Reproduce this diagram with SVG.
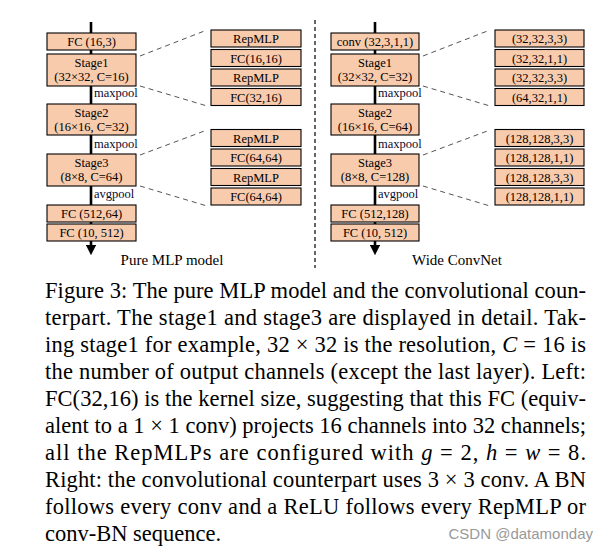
<svg xmlns="http://www.w3.org/2000/svg" width="609" height="552" viewBox="0 0 609 552">
<style>
.bx{fill:#F8CBAD;stroke:#000;stroke-width:1.1}
.t{font-family:"Liberation Serif","Times New Roman",serif;font-size:12.5px;fill:#000;text-anchor:middle}
.lb{font-family:"Liberation Serif","Times New Roman",serif;font-size:12.5px;fill:#0a0a30}
.ttl{font-family:"Liberation Serif","Times New Roman",serif;font-size:15px;fill:#000;text-anchor:middle}
.cap{font-family:"Liberation Serif","Times New Roman",serif;font-size:22.5px;fill:#000}
.dl{stroke:#555;stroke-width:1;stroke-dasharray:5 4;fill:none}
.spine{stroke:#000;stroke-width:2.6;fill:none}
.i{font-style:italic}
</style>
<defs>
<marker id="ah" markerWidth="4" markerHeight="4" refX="2" refY="2" orient="auto" markerUnits="strokeWidth">
<path d="M0,0 L4,2 L0,4 Z" fill="#000"/>
</marker>
</defs>
<g id="connectors">
<line class="spine" x1="91" y1="22" x2="91" y2="250" marker-end="url(#ah)"/>
<line class="spine" x1="375" y1="22" x2="375" y2="250" marker-end="url(#ah)"/>
<line x1="315" y1="20" x2="315" y2="268" stroke="#000" stroke-width="1.2" stroke-dasharray="4 3"/>
<line class="dl" x1="140" y1="56" x2="207" y2="30"/>
<line class="dl" x1="140" y1="86" x2="207" y2="106"/>
<line class="dl" x1="140" y1="155" x2="207" y2="130"/>
<line class="dl" x1="140" y1="186" x2="207" y2="206"/>
<line class="dl" x1="423" y1="56" x2="490" y2="30"/>
<line class="dl" x1="423" y1="86" x2="490" y2="106"/>
<line class="dl" x1="423" y1="155" x2="490" y2="130"/>
<line class="dl" x1="423" y1="186" x2="490" y2="206"/>
</g>
<g id="left-fc1"><rect class="bx" x="47" y="33" width="89" height="17"/><text class="t" x="91.5" y="46">FC (16,3)</text></g>
<g id="left-stage1"><rect class="bx" x="47" y="54" width="89" height="32"/><text class="t" x="91.5" y="67">Stage1</text><text class="t" x="91.5" y="81">(32×32, C=16)</text></g>
<g id="left-stage2"><rect class="bx" x="47" y="104" width="89" height="31"/><text class="t" x="91.5" y="117">Stage2</text><text class="t" x="91.5" y="131">(16×16, C=32)</text></g>
<g id="left-stage3"><rect class="bx" x="47" y="154" width="89" height="32"/><text class="t" x="91.5" y="167">Stage3</text><text class="t" x="91.5" y="181">(8×8, C=64)</text></g>
<g id="left-fc2"><rect class="bx" x="47" y="205" width="89" height="17"/><text class="t" x="91.5" y="218">FC (512,64)</text></g>
<g id="left-fc3"><rect class="bx" x="47" y="224" width="89" height="17"/><text class="t" x="91.5" y="237">FC (10, 512)</text></g>
<g id="left-labels">
<text class="lb" x="94" y="97">maxpool</text>
<text class="lb" x="94" y="148">maxpool</text>
<text class="lb" x="94" y="198">avgpool</text>
<text class="ttl" x="172" y="265">Pure MLP model</text>
</g>
<g id="left-d1"><rect class="bx" x="211" y="30" width="90" height="17"/><text class="t" x="256" y="43">RepMLP</text></g>
<g id="left-d2"><rect class="bx" x="211" y="49.5" width="90" height="17"/><text class="t" x="256" y="62.5">FC(16,16)</text></g>
<g id="left-d3"><rect class="bx" x="211" y="69" width="90" height="17"/><text class="t" x="256" y="82">RepMLP</text></g>
<g id="left-d4"><rect class="bx" x="211" y="88.5" width="90" height="17"/><text class="t" x="256" y="101.5">FC(32,16)</text></g>
<g id="left-d5"><rect class="bx" x="211" y="129.5" width="90" height="17"/><text class="t" x="256" y="142.5">RepMLP</text></g>
<g id="left-d6"><rect class="bx" x="211" y="149" width="90" height="17"/><text class="t" x="256" y="162">FC(64,64)</text></g>
<g id="left-d7"><rect class="bx" x="211" y="168.5" width="90" height="17"/><text class="t" x="256" y="181.5">RepMLP</text></g>
<g id="left-d8"><rect class="bx" x="211" y="188" width="90" height="17"/><text class="t" x="256" y="201">FC(64,64)</text></g>
<g id="right-conv"><rect class="bx" x="331" y="33" width="88" height="17"/><text class="t" x="375" y="46">conv (32,3,1,1)</text></g>
<g id="right-stage1"><rect class="bx" x="331" y="54" width="88" height="32"/><text class="t" x="375" y="67">Stage1</text><text class="t" x="375" y="81">(32×32, C=32)</text></g>
<g id="right-stage2"><rect class="bx" x="331" y="104" width="88" height="31"/><text class="t" x="375" y="117">Stage2</text><text class="t" x="375" y="131">(16×16, C=64)</text></g>
<g id="right-stage3"><rect class="bx" x="331" y="154" width="88" height="32"/><text class="t" x="375" y="167">Stage3</text><text class="t" x="375" y="181">(8×8, C=128)</text></g>
<g id="right-fc2"><rect class="bx" x="331" y="205" width="88" height="17"/><text class="t" x="375" y="218">FC (512,128)</text></g>
<g id="right-fc3"><rect class="bx" x="331" y="224" width="88" height="17"/><text class="t" x="375" y="237">FC (10, 512)</text></g>
<g id="right-labels">
<text class="lb" x="378" y="97">maxpool</text>
<text class="lb" x="378" y="148">maxpool</text>
<text class="lb" x="378" y="198">avgpool</text>
<text class="ttl" x="457" y="265">Wide ConvNet</text>
</g>
<g id="right-d1"><rect class="bx" x="495" y="30" width="89" height="17"/><text class="t" x="539.5" y="43">(32,32,3,3)</text></g>
<g id="right-d2"><rect class="bx" x="495" y="49.5" width="89" height="17"/><text class="t" x="539.5" y="62.5">(32,32,1,1)</text></g>
<g id="right-d3"><rect class="bx" x="495" y="69" width="89" height="17"/><text class="t" x="539.5" y="82">(32,32,3,3)</text></g>
<g id="right-d4"><rect class="bx" x="495" y="88.5" width="89" height="17"/><text class="t" x="539.5" y="101.5">(64,32,1,1)</text></g>
<g id="right-d5"><rect class="bx" x="495" y="129.5" width="89" height="17"/><text class="t" x="539.5" y="142.5">(128,128,3,3)</text></g>
<g id="right-d6"><rect class="bx" x="495" y="149" width="89" height="17"/><text class="t" x="539.5" y="162">(128,128,1,1)</text></g>
<g id="right-d7"><rect class="bx" x="495" y="168.5" width="89" height="17"/><text class="t" x="539.5" y="181.5">(128,128,3,3)</text></g>
<g id="right-d8"><rect class="bx" x="495" y="188" width="89" height="17"/><text class="t" x="539.5" y="201">(128,128,1,1)</text></g>
<g id="caption">
<text class="cap" x="45" y="298" textLength="541" lengthAdjust="spacing">Figure 3: The pure MLP model and the convolutional coun-</text>
<text class="cap" x="45" y="325" textLength="541" lengthAdjust="spacing">terpart. The stage1 and stage3 are displayed in detail. Tak-</text>
<text class="cap" x="45" y="352" textLength="541" lengthAdjust="spacing">ing stage1 for example, 32 × 32 is the resolution, <tspan class="i">C</tspan> = 16 is</text>
<text class="cap" x="45" y="379" textLength="541" lengthAdjust="spacing">the number of output channels (except the last layer). Left:</text>
<text class="cap" x="45" y="406" textLength="541" lengthAdjust="spacing">FC(32,16) is the kernel size, suggesting that this FC (equiv-</text>
<text class="cap" x="45" y="433" textLength="541" lengthAdjust="spacing">alent to a 1 × 1 conv) projects 16 channels into 32 channels;</text>
<text class="cap" x="45" y="460" textLength="541" lengthAdjust="spacing">all the RepMLPs are configured with <tspan class="i">g</tspan> = 2, <tspan class="i">h</tspan> = <tspan class="i">w</tspan> = 8.</text>
<text class="cap" x="45" y="487" textLength="541" lengthAdjust="spacing">Right: the convolutional counterpart uses 3 × 3 conv. A BN</text>
<text class="cap" x="45" y="514" textLength="541" lengthAdjust="spacing">follows every conv and a ReLU follows every RepMLP or</text>
<text class="cap" x="45" y="541">conv-BN sequence.</text>
<text x="593" y="539" font-family="Liberation Sans, Arial, sans-serif" font-size="15" fill="#999" text-anchor="end">CSDN @datamonday</text>
</g>
</svg>
